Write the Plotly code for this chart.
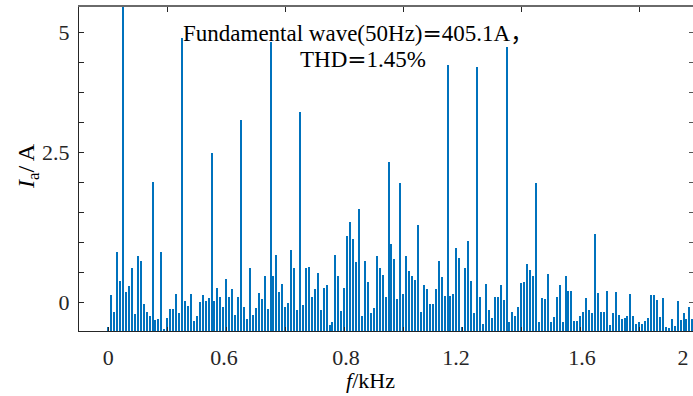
import plotly.graph_objects as go

# ---------------- data ----------------
FREQ_STEP_KHZ = 0.01  # 10 Hz spectral bins
# amplitude per bin (axis units), bin 0 = DC ; bin 5 = 50 Hz fundamental (off scale)
amp = [
    -0.42, 0.11, -0.16, 0.83, 0.35, 405.1, 0.17, 0.26, 0.56, -0.20,
    0.76, 0.68, -0.04, -0.16, -0.23, 2.00, -0.30, -0.28, 0.83, -0.45,
    -0.27, -0.12, -0.12, 0.13, -0.18, 4.40, 0.02, -0.07, 0.14, -0.31,
    -0.24, 0.00, 0.12, 0.02, 0.06, 2.48, 0.02, 0.24, 0.09, -0.08,
    0.39, 0.09, 0.22, -0.22, 0.09, 3.03, -0.08, -0.29, 0.56, -0.22,
    -0.10, 0.15, 0.05, 0.44, -0.12, 4.33, 0.43, 0.79, 0.16, 0.30,
    -0.09, -0.02, 0.86, 0.57, -0.14, 3.17, -0.05, 0.57, 0.59, 0.08,
    0.22, 0.48, -0.14, 0.24, 0.29, -0.38, -0.34, 0.78, 0.44, -0.15,
    0.24, 1.10, 1.33, 1.05, 0.66, 1.55, -0.23, 0.68, 0.33, -0.18,
    -0.10, 0.76, 0.56, 0.45, 0.08, 2.33, 0.96, 0.72, 0.05, 1.98,
    0.14, 0.76, 0.52, 0.43, 0.36, 1.28, -0.16, 0.29, 0.22, -0.04,
    -0.04, 0.21, 0.69, 0.41, 0.10, 3.95, 0.10, 0.13, 0.90, 0.74,
    -0.42, 0.57, 1.02, 0.35, -0.19, 3.92, 0.09, -0.36, 0.30, -0.13,
    -0.27, 0.08, 0.08, 0.29, 0.03, 4.25, -0.34, -0.17, -0.24, -0.08,
    0.31, 0.33, 0.64, 0.54, 0.43, 1.98, -0.33, 0.07, 0.05, 0.47,
    -0.34, -0.25, 0.08, 0.29, -0.33, 0.43, 0.18, 0.18, -0.32, -0.32,
    -0.24, -0.17, 0.06, -0.13, -0.19, 1.14, 0.15, -0.16, -0.16, 0.18,
    -0.38, -0.19, 0.17, -0.21, -0.29, -0.27, -0.24, 0.13, -0.24, -0.37,
    -0.34, -0.37, -0.31, -0.26, 0.11, 0.11, 0.03, -0.25, 0.06, -0.41,
    -0.43, -0.28, -0.40, 0.01, -0.30, -0.18, -0.28, -0.08, -0.28,
]
freq_khz = [round(k * FREQ_STEP_KHZ, 2) for k in range(len(amp))]

x_tick_vals = [0.0, 0.392, 0.806, 1.179, 1.606, 1.948]
x_tick_text = ["0", "0.6", "0.8", "1.2", "1.6", "2"]
x_minor_vals = [0.0, 0.2, 0.4, 0.6, 0.8, 1.0, 1.2, 1.4, 1.6, 1.8]
x_top_vals = [0.2, 0.6, 1.0, 1.4, 1.8]
y_tick_vals = [0.0, 2.5, 4.5]
y_tick_text = ["0", "2.5", "5"]
y_minor_vals = [0.0, 0.5, 1.0, 1.5, 2.0, 2.5, 3.0, 3.5, 4.0, 4.5]

EQ = '<span style="font-family:DejaVu Serif">=</span>'
COMMA = '<span style="font-family:Noto Sans CJK SC">，</span>'
line1 = "Fundamental wave(50Hz)" + EQ + "405.1A" + COMMA
line2 = "THD" + EQ + "1.45%"

# ---------------- layout geometry ----------------
W, H = 693, 396
ML, MR, MT, MB = 79, 0, 7, 65
XR = [-0.0992, 1.9822]
YR = [-0.4833, 4.9167]
BASE = YR[0]
FONT = "Liberation Serif, Times New Roman, serif"
AX = "#262626"

def px_to_paper(px, py):
    return (px - ML) / (W - ML - MR), (H - MB - py) / (H - MT - MB)

fig = go.Figure()
fig.add_bar(
    x=freq_khz,
    y=[v - BASE for v in amp],
    base=BASE,
    width=0.0068,
    marker=dict(color="#0072BD", line=dict(width=0)),
    showlegend=False,
)

fig.update_layout(
    width=W, height=H,
    margin=dict(l=ML, r=MR, t=MT, b=MB),
    paper_bgcolor="white", plot_bgcolor="white",
    font=dict(family=FONT, size=22, color="#262626"),
    bargap=0,
    xaxis=dict(
        range=XR, showgrid=False, zeroline=False,
        showline=True, linecolor=AX, linewidth=1.2,
        tickmode="array", tickvals=x_tick_vals, ticktext=x_tick_text,
        ticks="", ticklabelstandoff=6,
        tickfont=dict(family=FONT, size=22, color="#262626"),
        minor=dict(tickmode="array", tickvals=x_minor_vals, ticks="inside",
                   ticklen=4, tickcolor=AX, tickwidth=1, showgrid=False),
    ),
    yaxis=dict(
        range=YR, showgrid=False, zeroline=False,
        showline=True, linecolor=AX, linewidth=1.2,
        tickmode="array", tickvals=y_tick_vals, ticktext=y_tick_text,
        ticks="inside", ticklen=5, tickcolor=AX, tickwidth=1,
        ticklabelstandoff=4,
        tickfont=dict(family=FONT, size=22, color="#262626"),
        minor=dict(tickmode="array", tickvals=y_minor_vals, ticks="inside",
                   ticklen=5, tickcolor=AX, tickwidth=1, showgrid=False),
    ),
    xaxis2=dict(
        range=XR, overlaying="x", side="top", anchor="y",
        showgrid=False, zeroline=False, showline=True,
        linecolor="#6a6a6a", linewidth=1.5,
        tickmode="array", tickvals=x_top_vals, ticks="inside",
        ticklen=5, tickcolor=AX, showticklabels=False,
    ),
    yaxis2=dict(
        range=YR, overlaying="y", side="right", anchor="x",
        showgrid=False, zeroline=False, showline=False,
        tickmode="array", tickvals=y_minor_vals, ticks="inside",
        ticklen=4, tickcolor="#555555", showticklabels=False,
    ),
)

fig.add_scatter(x=[XR[0]], y=[YR[0]], xaxis="x2", yaxis="y2", mode="markers",
                marker=dict(opacity=0), showlegend=False, hoverinfo="skip")

def annot(text, px, py, xanchor="left", angle=0, size=22):
    xp, yp = px_to_paper(px, py)
    fig.add_annotation(text=text, x=xp, y=yp, xref="paper", yref="paper",
                       xanchor=xanchor, yanchor="middle", showarrow=False,
                       textangle=angle,
                       font=dict(family=FONT, size=size, color="black"))

annot(line1, 181, 31, size=23)
annot(line2, 298, 59, size=23)
annot("<i>I</i><sub>a</sub>/ A", 28, 166, xanchor="center", angle=-90, size=24)
annot("<i>f</i>/kHz", 370, 380, xanchor="center")

fig.write_html("out.html")
